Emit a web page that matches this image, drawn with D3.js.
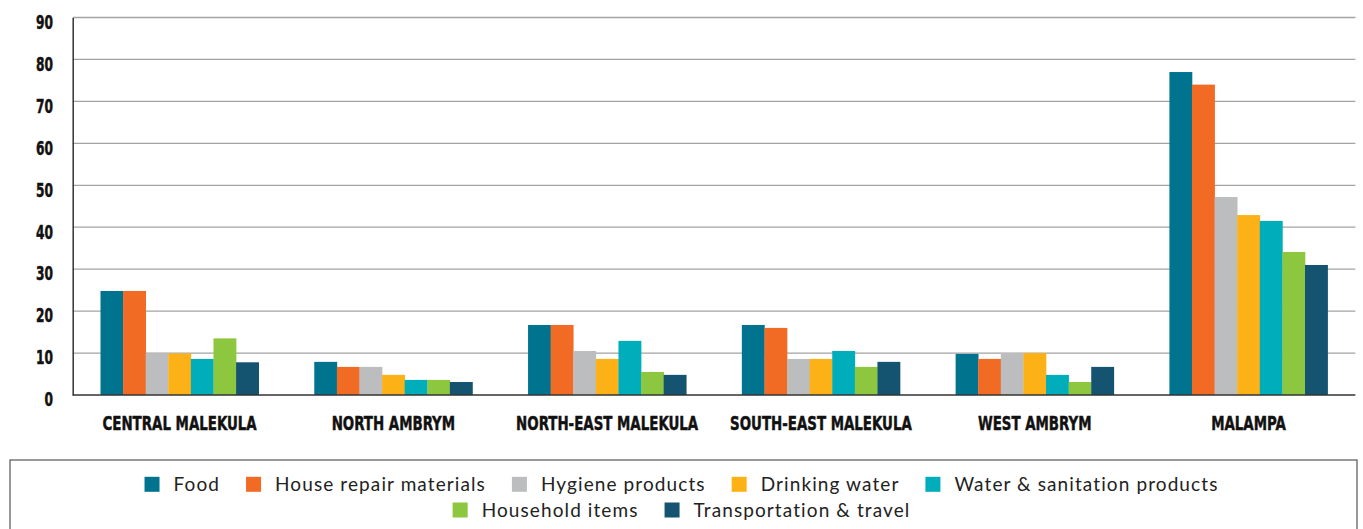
<!DOCTYPE html>
<html>
<head>
<meta charset="utf-8">
<script src="https://cdn.jsdelivr.net/npm/d3@7/dist/d3.min.js"></script>
<style>
  html, body { margin: 0; padding: 0; background: #fff; }
  svg { display: block; }
  .cond { font-family: "DejaVu Sans", sans-serif; font-stretch: condensed; font-weight: bold; }
</style>
</head>
<body>
<svg id="chart" width="1363" height="529"></svg>
<script>
const categories = ["CENTRAL MALEKULA", "NORTH AMBRYM", "NORTH-EAST MALEKULA", "SOUTH-EAST MALEKULA", "WEST AMBRYM", "MALAMPA"];
const seriesNames = ["Food", "House repair materials", "Hygiene products", "Drinking water", "Water & sanitation products", "Household items", "Transportation & travel"];
const seriesColors = ["#00748f", "#f26b25", "#bcbdbe", "#fcb216", "#00adba", "#8dc63f", "#155470"];
const food       = [24.8, 7.9, 16.7, 16.7, 9.8, 77.0];
const houseRepair= [24.8, 6.7, 16.7, 16.0, 8.6, 74.0];
const hygiene    = [9.9, 6.7, 10.5, 8.6, 10.0, 47.2];
const drinking   = [9.9, 4.8, 8.6, 8.6, 10.0, 42.9];
const waterSan   = [8.6, 3.6, 12.9, 10.5, 4.8, 41.5];
const household  = [13.5, 3.6, 5.5, 6.7, 3.1, 34.1];
const transport  = [7.8, 3.1, 4.8, 7.9, 6.7, 31.0];
const yTicks = [0, 10, 20, 30, 40, 50, 60, 70, 80, 90];

const seriesValues = [food, houseRepair, hygiene, drinking, waterSan, household, transport];

const svg = d3.select("#chart");
const W = 1363, H = 529;
const mLeft = 72.7, mRight = 1355.4, mTop = 17.5, mBottom = 395;

const x0 = d3.scaleBand().domain(categories).range([mLeft, mRight]).paddingInner(0.26).paddingOuter(0.13);
const x1 = d3.scaleBand().domain(seriesNames).range([0, x0.bandwidth()]);
const y = d3.scaleLinear().domain([0, 90]).range([mBottom, mTop]);
const color = d3.scaleOrdinal().domain(seriesNames).range(seriesColors);

// gridlines
svg.append("g").selectAll("line").data(yTicks.filter(d => d > 0)).join("line")
  .attr("x1", mLeft).attr("x2", mRight).attr("y1", d => y(d)).attr("y2", d => y(d))
  .attr("stroke", "#a3a3a3").attr("stroke-width", 1.3);

// bars
const groups = svg.append("g").selectAll("g").data(categories).join("g")
  .attr("transform", d => `translate(${x0(d)},0)`);
groups.selectAll("rect").data((c, i) => seriesNames.map((s, j) => ({s, v: seriesValues[j][i]}))).join("rect")
  .attr("x", d => x1(d.s)).attr("width", x1.bandwidth() + 0.3)
  .attr("y", d => y(d.v)).attr("height", d => y(0) - y(d.v))
  .attr("fill", d => color(d.s));

// y axis
const yAxis = svg.append("g").attr("transform", `translate(${mLeft},0)`)
  .call(d3.axisLeft(y).tickValues(yTicks).tickSize(0).tickPadding(0));
yAxis.select(".domain").attr("stroke", "#333").attr("stroke-width", 1.5);
const yTexts = yAxis.selectAll("text").attr("class", "cond").attr("font-size", 20).attr("fill", "#111")
  .attr("stroke", "#111").attr("stroke-width", 0.5)
  .attr("x", 0).attr("dy", 0).attr("y", 0).attr("text-anchor", "end");
const w10 = yTexts.filter(d => d === 10).node().getComputedTextLength();
const ys = 17 / w10;
yTexts.attr("transform", `translate(-19.7,10.8) scale(${ys},1)`);

// x axis
const xAxis = svg.append("g").attr("transform", `translate(0,${mBottom})`)
  .call(d3.axisBottom(x0).tickSize(0).tickPadding(0));
xAxis.select(".domain").attr("d", `M${mLeft},0H${mRight}`).attr("stroke", "#333").attr("stroke-width", 1.5);
const xTexts = xAxis.selectAll("text").attr("class", "cond").attr("font-size", 19).attr("fill", "#111")
  .attr("stroke", "#111").attr("stroke-width", 0.45)
  .attr("y", 0).attr("dy", 0);
const wCM = xTexts.filter(d => d === "CENTRAL MALEKULA").node().getComputedTextLength();
const xs = 154.4 / wCM;
xTexts.attr("transform", `translate(0,34.5) scale(${xs},1)`);

// legend
const legend = svg.append("g");
legend.append("rect").attr("x", 10).attr("y", 460).attr("width", 1347).attr("height", 80)
  .attr("fill", "none").attr("stroke", "#555").attr("stroke-width", 1.2);
const fontLeg = "Lato, 'Open Sans', sans-serif";
const rows = [seriesNames.slice(0, 5), seriesNames.slice(5)];
const rowY = [484.3, 510];
const sw = 15, gapT = 14, gapI = 26, fs = 19, ls = 1.1;
rows.forEach((row, r) => {
  const g = legend.append("g");
  let xx = 0;
  row.forEach(name => {
    const it = g.append("g").attr("transform", `translate(${xx},0)`);
    it.append("rect").attr("x", 0).attr("y", rowY[r] - 7.5).attr("width", sw).attr("height", sw).attr("fill", color(name));
    const t = it.append("text").attr("x", sw + gapT).attr("y", rowY[r]).attr("dy", "0.36em")
      .attr("font-family", fontLeg).attr("font-size", fs).attr("letter-spacing", ls).attr("fill", "#222").text(name);
    xx += sw + gapT + t.node().getComputedTextLength() + gapI;
  });
  const total = xx - gapI;
  g.attr("transform", `translate(${(W - total) / 2},0)`);
});
</script>
</body>
</html>
